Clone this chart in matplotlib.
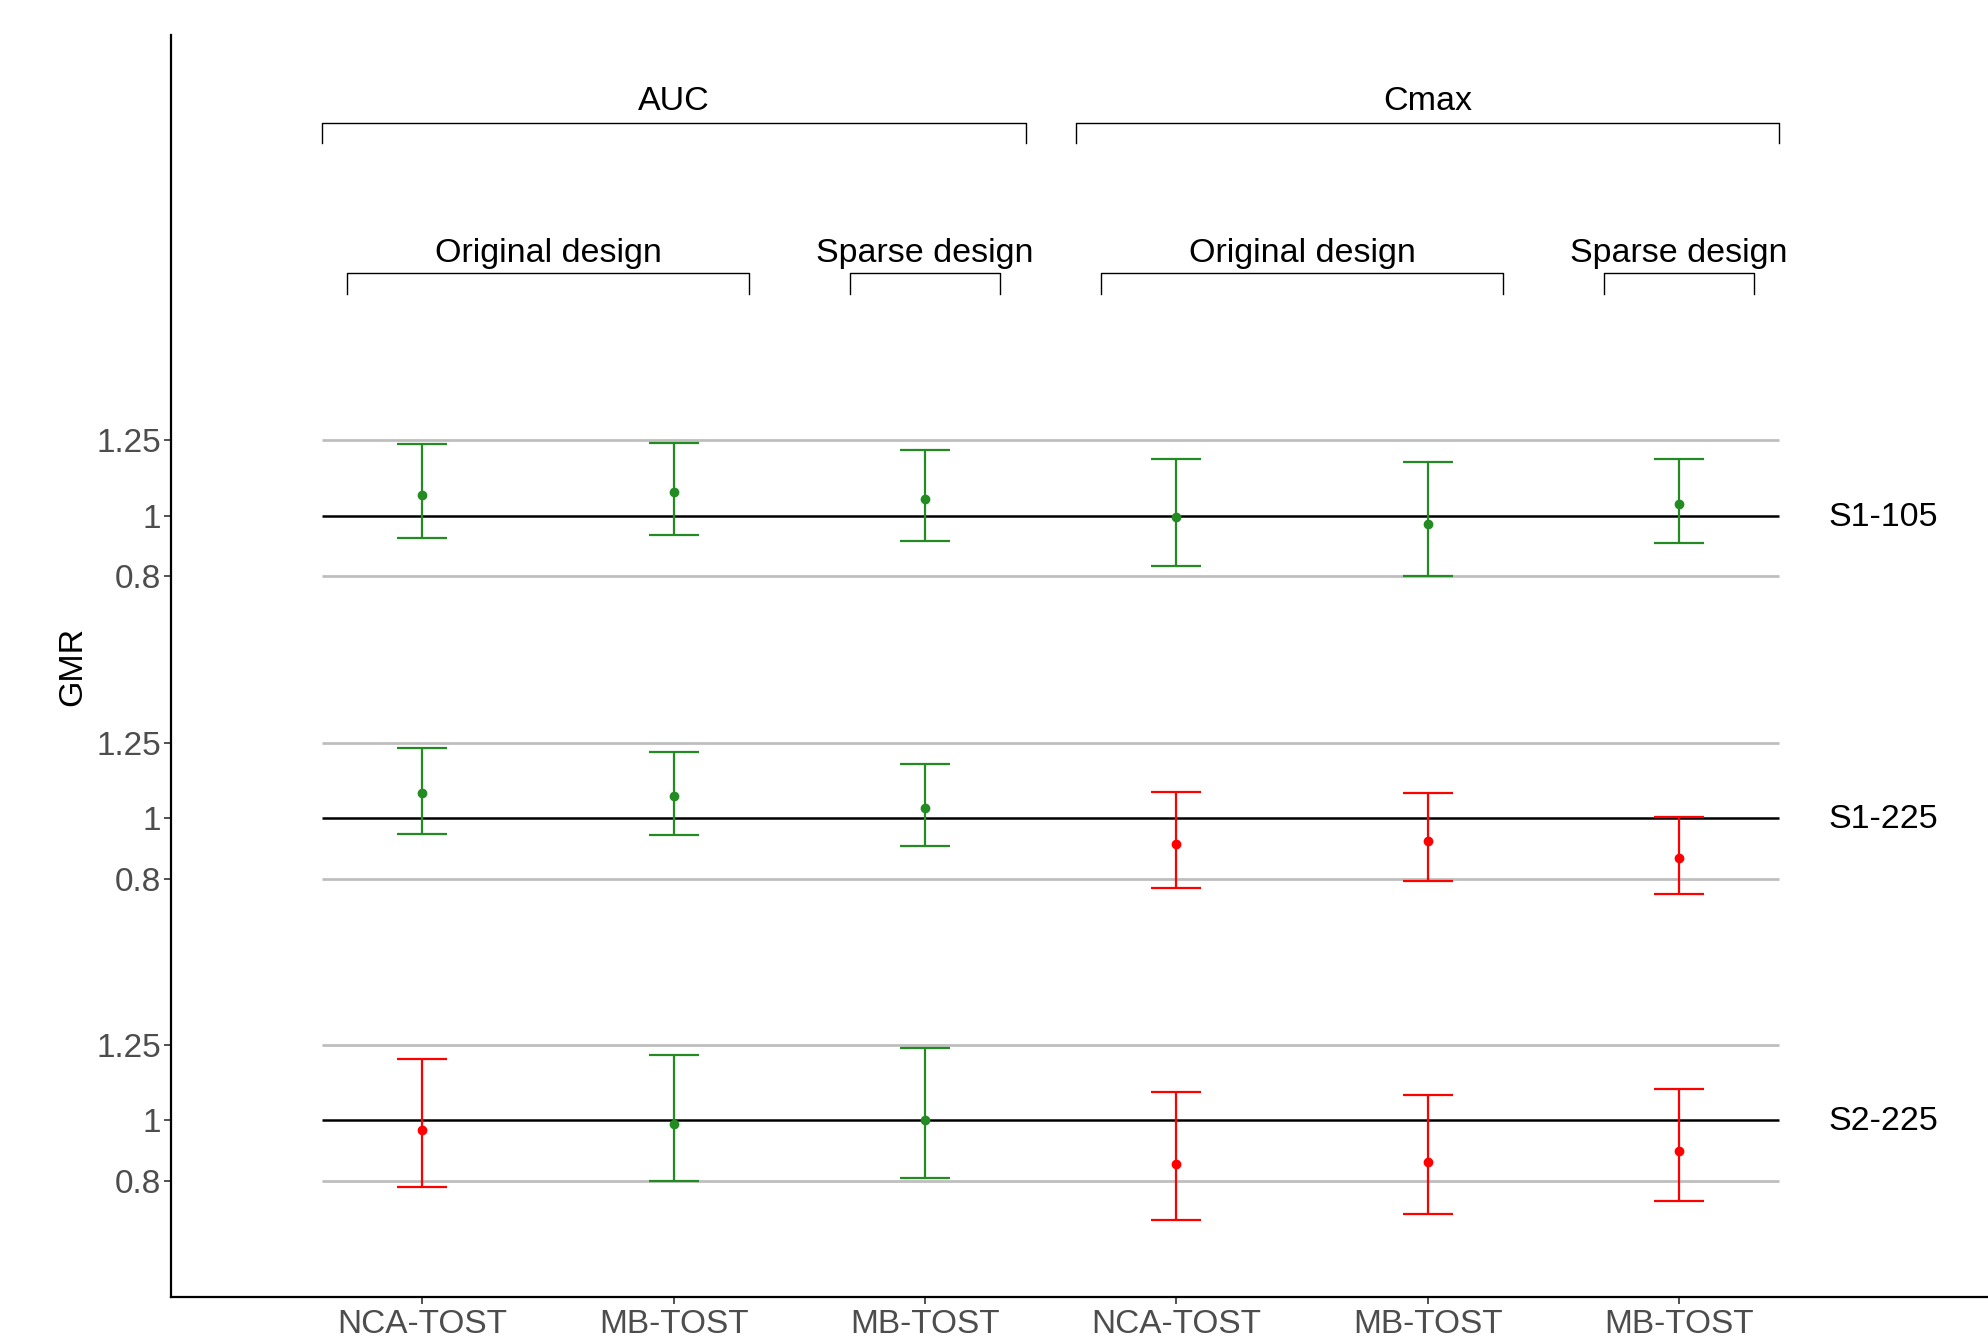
import matplotlib
matplotlib.use("Agg")
import matplotlib.pyplot as plt
import numpy as np

plt.rcParams['font.family'] = ['Liberation Sans', 'DejaVu Sans']

# categories along x (1..6)
methods = ['NCA-TOST', 'MB-TOST', 'MB-TOST', 'NCA-TOST', 'MB-TOST', 'MB-TOST']
scenarios = ['S1-105', 'S1-225', 'S2-225']
offsets = [2, 1, 0]  # each scenario is stacked one unit apart

# GMR point estimate and 90% CI, one row per scenario
gmr = [
    [1.071, 1.079, 1.056, 0.997, 0.973, 1.039],
    [1.083, 1.074, 1.034, 0.914, 0.926, 0.867],
    [0.970, 0.988, 1.003, 0.857, 0.864, 0.898],
]
lower = [
    [0.926, 0.936, 0.916, 0.836, 0.802, 0.909],
    [0.948, 0.946, 0.907, 0.770, 0.791, 0.750],
    [0.780, 0.801, 0.810, 0.672, 0.689, 0.734],
]
upper = [
    [1.238, 1.240, 1.218, 1.1875, 1.177, 1.189],
    [1.231, 1.218, 1.179, 1.086, 1.083, 1.003],
    [1.204, 1.218, 1.240, 1.094, 1.085, 1.103],
]

limits = [0.8, 1.25]
ytick_vals = [0.8, 1, 1.25]
ytick_txt = ['0.8', '1', '1.25']

# bracket groups: (label, x start, x end)
top_groups = [('AUC', 0.6, 3.4), ('Cmax', 3.6, 6.4)]
sub_groups = [('Original design', 0.7, 2.3), ('Sparse design', 2.7, 3.3),
              ('Original design', 3.7, 5.3), ('Sparse design', 5.7, 6.3)]

GREEN = '#228B22'
RED = '#FF0000'

fig = plt.figure(figsize=(19.88, 13.36), dpi=100)
ax = fig.add_axes([0.0861, 0.0292, 0.9139, 0.9443])

x = np.arange(1, 7)
yt = []
yl = []
for k, sc in enumerate(scenarios):
    off = offsets[k]
    for lim in limits:
        ax.hlines(lim + off, 0.6, 6.4, color='#BEBEBE', lw=2, zorder=1)
    ax.hlines(1 + off, 0.6, 6.4, color='black', lw=1.8, zorder=1)
    for i in range(6):
        g = gmr[k][i]
        lo = lower[k][i]
        hi = upper[k][i]
        # green when CI inside 0.8-1.25
        col = GREEN if (lo >= 0.8 and hi <= 1.25) else RED
        ax.errorbar(x[i], g + off, yerr=[[g - lo], [hi - g]], fmt='o', color=col,
                    ms=6, elinewidth=1.6, capsize=18, capthick=1.6, zorder=3)
    ax.text(6.595, 1 + off - 0.005, sc, fontsize=24.5, va='center', ha='left', color='black')
    for v, t in zip(ytick_vals, ytick_txt):
        yt.append(v + off)
        yl.append(t)

# brackets at the top
def bracket(x0, x1, ytop, ybot, label, ylab):
    ax.plot([x0, x0, x1, x1], [ybot, ytop, ytop, ybot], color='black', lw=1.0, clip_on=False)
    ax.text((x0 + x1) / 2, ylab, label, fontsize=24.5, ha='center', va='center', color='black')

for lab, a, b in top_groups:
    bracket(a, b, 4.30, 4.235, lab, 4.37)
for lab, a, b in sub_groups:
    bracket(a, b, 3.805, 3.735, lab, 3.87)

ax.set_xlim(0, 7.23)
ax.set_ylim(0.416, 4.59)
ax.set_xticks(x)
ax.set_xticklabels(methods)
ax.set_yticks(yt)
ax.set_yticklabels(yl)
ax.tick_params(axis='both', labelsize=24, colors='#333333', labelcolor='#4D4D4D', length=5, width=1.2)
ax.tick_params(axis='x', pad=4)
ax.tick_params(axis='y', pad=2)
ax.set_ylabel('GMR', fontsize=24.5, labelpad=6)

for s in ['top', 'right']:
    ax.spines[s].set_visible(False)
for s in ['left', 'bottom']:
    ax.spines[s].set_linewidth(1.6)

fig.savefig('out.png', dpi=100)
